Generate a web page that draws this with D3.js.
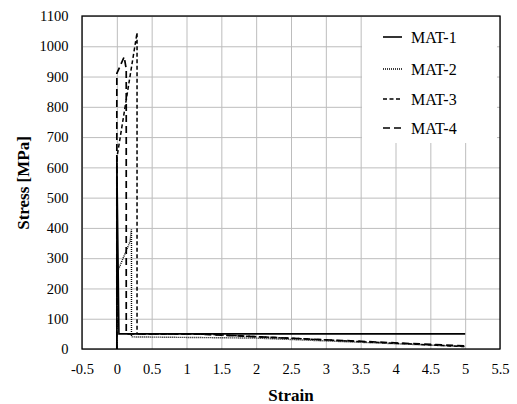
<!DOCTYPE html>
<html>
<head>
<meta charset="utf-8">
<script src="https://cdn.jsdelivr.net/npm/d3@7"></script>
<style>
  body { margin: 0; background: #fff; }
  svg { display: block; }
  svg text { font-family: "Liberation Serif", "DejaVu Serif", serif; }
</style>
</head>
<body>
<div id="chart"></div>
<script>
// tick values / labels
var xTicks = [-0.5, 0, 0.5, 1, 1.5, 2, 2.5, 3, 3.5, 4, 4.5, 5, 5.5];
var xTickLabels = ["-0.5", "0", "0.5", "1", "1.5", "2", "2.5", "3", "3.5", "4", "4.5", "5", "5.5"];
var yTicks = [0, 100, 200, 300, 400, 500, 600, 700, 800, 900, 1000, 1100];

// series (strain, stress MPa)
var seriesNames = ["MAT-1", "MAT-2", "MAT-3", "MAT-4"];
var mat1Strain = [0, 0, 0.03, 5];
var mat1Stress = [0, 630, 50, 50];
var mat2Strain = [0, 0, 0.19, 0.21, 0.21, 2, 5];
var mat2Stress = [0, 250, 355, 395, 40, 36, 8];
var mat3Strain = [0, 0, 0.29, 0.29, 1.25, 5];
var mat3Stress = [0, 630, 1045, 50, 49, 8];
var mat4Strain = [0, 0, 0.105, 0.135, 0.135, 1.1, 5];
var mat4Stress = [0, 910, 965, 925, 50, 50, 10];

var width = 517, height = 404;
var pLeft = 82, pRight = 500, pTop = 16, pBottom = 349;

var svg = d3.select('#chart')
  .append('svg')
  .attr('width', width)
  .attr('height', height);

var x = d3.scaleLinear().domain([-0.5, 5.5]).range([pLeft, pRight]);
var y = d3.scaleLinear().domain([0, 1100]).range([pBottom, pTop]);

// x axis with gridlines
var xAxis = svg.append('g')
  .attr('transform', 'translate(0,' + pBottom + ')')
  .call(d3.axisBottom(x)
    .tickValues(xTicks)
    .tickFormat(function (d, i) { return xTickLabels[i]; })
    .tickSize(-(pBottom - pTop))
    .tickPadding(15));
xAxis.attr('font-family', null).attr('font-size', null);
xAxis.select('.domain').remove();
xAxis.selectAll('line').attr('stroke', '#bdbdbd');
xAxis.selectAll('text').style('font-size', '14.5px').attr('fill', '#000');

var yAxis = svg.append('g')
  .attr('transform', 'translate(' + pLeft + ',0)')
  .call(d3.axisLeft(y)
    .tickValues(yTicks)
    .tickFormat(d3.format('d'))
    .tickSize(-(pRight - pLeft))
    .tickPadding(13.5));
yAxis.attr('font-family', null).attr('font-size', null);
yAxis.select('.domain').remove();
yAxis.selectAll('line').attr('stroke', '#bdbdbd');
yAxis.selectAll('text').style('font-size', '14.5px').attr('fill', '#000');

// legend background covers the grid
svg.append('rect')
  .attr('x', 362).attr('y', pTop + 1)
  .attr('width', 135).attr('height', 126)
  .attr('fill', '#fff');

var series = [
  { name: seriesNames[0], xs: mat1Strain, ys: mat1Stress, dash: null, w: 1.6 },
  { name: seriesNames[1], xs: mat2Strain, ys: mat2Stress, dash: '1,1', w: 1.4 },
  { name: seriesNames[2], xs: mat3Strain, ys: mat3Stress, dash: '4,2.5', w: 1.5 },
  { name: seriesNames[3], xs: mat4Strain, ys: mat4Stress, dash: '7,4', w: 1.7 }
];

var line = d3.line()
  .x(function (d) { return x(d[0]); })
  .y(function (d) { return y(d[1]); });

// draw dashed ones first, solid on top
[3, 2, 1, 0].forEach(function (i) {
  var s = series[i];
  var pts = s.xs.map(function (v, j) { return [v, s.ys[j]]; });
  svg.append('path')
    .datum(pts)
    .attr('d', line)
    .attr('fill', 'none')
    .attr('stroke', '#000')
    .attr('stroke-width', s.w)
    .attr('stroke-dasharray', s.dash);
});

// frame
svg.append('rect')
  .attr('x', pLeft).attr('y', pTop)
  .attr('width', pRight - pLeft).attr('height', pBottom - pTop)
  .attr('fill', 'none').attr('stroke', '#000').attr('stroke-width', 1.3);

// legend
var legY = [37, 69, 99, 128];
series.forEach(function (s, i) {
  svg.append('line')
    .attr('x1', 383).attr('x2', 402)
    .attr('y1', legY[i]).attr('y2', legY[i])
    .attr('stroke', '#000')
    .attr('stroke-width', s.w)
    .attr('stroke-dasharray', s.dash);
  svg.append('text')
    .attr('x', 411).attr('y', legY[i])
    .attr('dy', '0.35em')
    .style('font-size', '16px')
    .text(s.name);
});

// axis titles
svg.append('text')
  .attr('x', x(2.5)).attr('y', 401)
  .attr('text-anchor', 'middle')
  .style('font-size', '17px')
  .style('font-weight', 'bold')
  .text('Strain');

svg.append('text')
  .attr('transform', 'translate(29,183) rotate(-90)')
  .attr('text-anchor', 'middle')
  .style('font-size', '17px')
  .style('font-weight', 'bold')
  .text('Stress [MPa]');
</script>
</body>
</html>
